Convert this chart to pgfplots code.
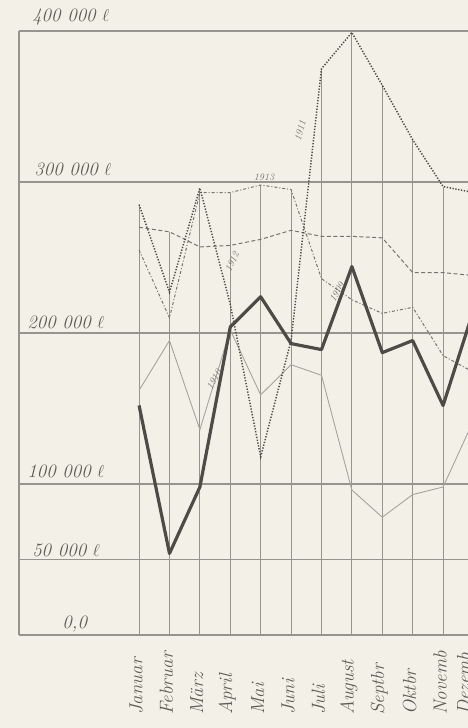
\documentclass[border=0pt]{standalone}
\usepackage{pgfplots}
\pgfplotsset{compat=1.18}
\definecolor{paper}{RGB}{243,241,231}
\definecolor{gridc}{RGB}{150,148,140}
\definecolor{inkdark}{RGB}{78,74,70}
\definecolor{inkmid}{RGB}{118,116,110}
\definecolor{inklight}{RGB}{165,163,156}
\definecolor{labc}{RGB}{95,92,86}
\begin{document}
\begin{tikzpicture}[x=1bp,y=1bp]
\fill[paper] (0,0) rectangle (468,728);
\useasboundingbox (0,0) rectangle (468,728);
\begin{axis}[
  at={(19bp,93bp)}, anchor=south west,
  scale only axis, width=449bp, height=604bp,
  xmin=-3.95, xmax=10.82,
  ymin=0, ymax=400000,
  axis x line*=bottom, axis y line*=left,
  axis line style={gridc, line width=1.3pt, -},
  xtick=\empty,
  ytick={0,50000,100000,200000,300000,400000},
  yticklabels={}, scaled y ticks=false,
  major tick length=0pt,
  ymajorgrids, grid style={gridc, line width=1.3pt},
  clip mode=individual,
]
% drop lines from the highest value of each month
\addplot[gridc, line width=1.1pt, ycomb, no marks] coordinates {
 (0,285000) (1,267000) (2,296000) (3,293000) (4,298000) (5,295000)
 (6,375000) (7,399000) (8,364000) (9,328000) (10,297000)};
% thin solid series
\addplot[inklight, line width=0.9pt, no marks] coordinates {
 (0,162000) (1,195000) (2,136000) (3,202000) (4,159000) (5,179000)
 (6,172000) (7,96000) (8,78000) (9,93000) (10,98000) (11,142000)};
% dashed series
\addplot[inkmid, line width=1pt, no marks, dash pattern=on 4pt off 2.5pt] coordinates {
 (0,270000) (1,267000) (2,257000) (3,258000) (4,262000) (5,268000)
 (6,264000) (7,264000) (8,263000) (9,240000) (10,240000) (11,238000)};
% dash-dot series
\addplot[inkmid, line width=1pt, no marks, dash pattern=on 3pt off 2pt on 1pt off 2pt] coordinates {
 (0,255000) (1,210000) (2,293000) (3,293000) (4,298000) (5,295000)
 (6,236000) (7,222000) (8,213000) (9,217000) (10,185000) (11,174000)};
% heavy dotted series
\addplot[inkdark, line width=1.5pt, no marks, dash pattern=on 1.3pt off 1.6pt] coordinates {
 (0,285000) (1,227000) (2,296000) (3,219000) (4,118000) (5,195000)
 (6,375000) (7,399000) (8,364000) (9,328000) (10,297000) (11,293000)};
% thick main series
\addplot[inkdark, line width=3.2pt, no marks, line join=round] coordinates {
 (0,152000) (1,54000) (2,98000) (3,204000) (4,224000) (5,193000)
 (6,189000) (7,244000) (8,187000) (9,195000) (10,152000) (11,215000)};

% value labels
\tikzset{ylab/.style={anchor=base west, text=labc, inner sep=0pt, font=\fontsize{19}{19}\selectfont\itshape}}
\node[ylab] at (axis cs:-3.52,406000) {400 000 $\ell$};
\node[ylab] at (axis cs:-3.45,304600) {300 000 $\ell$};
\node[ylab] at (axis cs:-3.68,203300) {200 000 $\ell$};
\node[ylab] at (axis cs:-3.68,104000) {100 000 $\ell$};
\node[ylab] at (axis cs:-3.52,52300) {50 000 $\ell$};
\node[ylab] at (axis cs:-2.53,4600) {0,0};

% month labels
\tikzset{mlab/.style={rotate=90, anchor=west, text=labc, inner sep=0pt, font=\fontsize{19}{19}\selectfont\itshape}}
\node[mlab] at (axis cs:-0.1,-53000) {Januar};
\node[mlab] at (axis cs:0.9,-53000) {Februar};
\node[mlab] at (axis cs:1.9,-53000) {März};
\node[mlab] at (axis cs:2.9,-53000) {April};
\node[mlab] at (axis cs:3.9,-53000) {Mai};
\node[mlab] at (axis cs:4.9,-53000) {Juni};
\node[mlab] at (axis cs:5.9,-53000) {Juli};
\node[mlab] at (axis cs:6.9,-53000) {August};
\node[mlab] at (axis cs:7.9,-53000) {Septbr};
\node[mlab] at (axis cs:8.9,-53000) {Oktbr};
\node[mlab] at (axis cs:9.9,-53000) {Novemb};
\node[mlab] at (axis cs:10.68,-53000) {Dezemb};

% year labels on the curves
\tikzset{yr/.style={text=inkmid, inner sep=0pt, font=\fontsize{10}{10}\selectfont\itshape}}
\node[yr] at (axis cs:4.11,303000) {1913};
\node[yr, rotate=65] at (axis cs:3.06,247000) {1912};
\node[yr, rotate=60] at (axis cs:2.47,169000) {1910};
\node[yr, rotate=75] at (axis cs:5.30,334000) {1911};
\node[yr, rotate=60] at (axis cs:6.51,227000) {1909};
\end{axis}
\end{tikzpicture}
\end{document}
